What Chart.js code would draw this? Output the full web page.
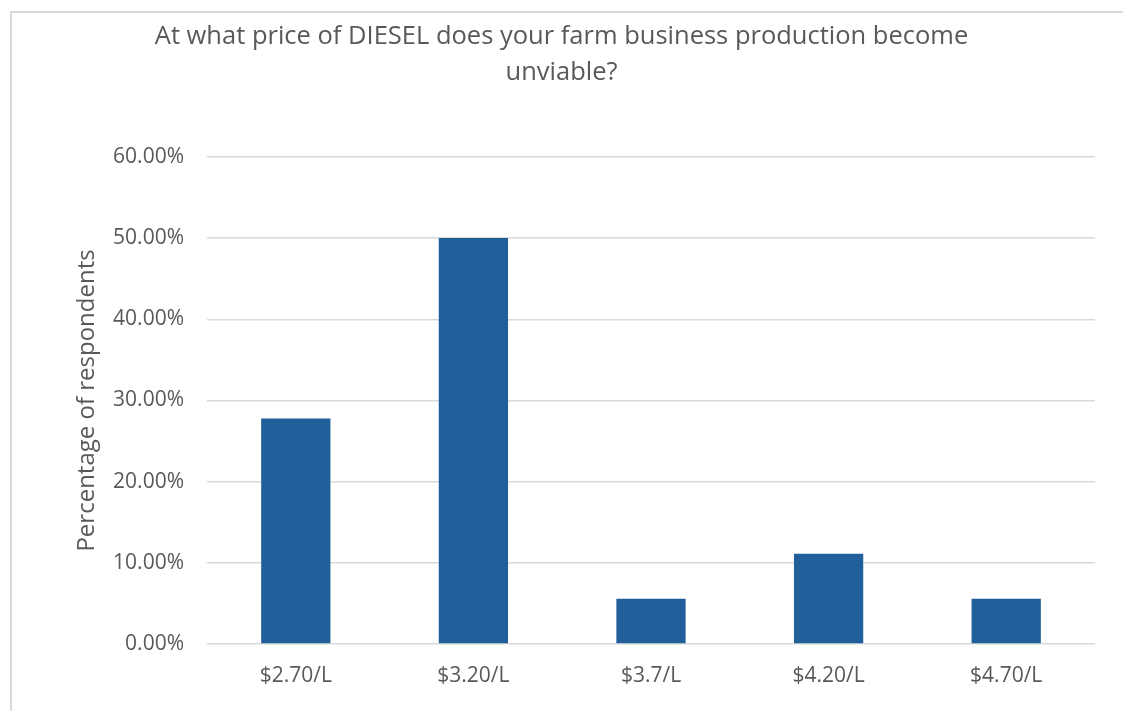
<!DOCTYPE html>
<html>
<head>
<meta charset="utf-8">
<script src="https://cdn.jsdelivr.net/npm/chart.js@4.4.0/dist/chart.umd.min.js"></script>
<style>
  html, body { margin: 0; padding: 0; background: #ffffff; }
  #wrap { position: relative; width: 1123px; height: 711px; overflow: hidden; }
  #frame { position: absolute; left: 10px; top: 11px; width: 1200px; height: 800px;
           border-top: 2px solid #d9d9d9; border-left: 2px solid #d9d9d9; }
  canvas { position: absolute; left: 0; top: 0; }
</style>
</head>
<body>
<div id="wrap">
  <div id="frame"></div>
  <canvas id="chart" width="1123" height="711"></canvas>
</div>
<script>
// data
const categories = ['$2.70/L', '$3.20/L', '$3.7/L', '$4.20/L', '$4.70/L'];
const percentValues = [27.78, 50.00, 5.56, 11.11, 5.56];
const yTicks = [0, 10, 20, 30, 40, 50, 60];

const textColor = '#595959';
const fontFamily = '"Open Sans", "DejaVu Sans", sans-serif';

new Chart(document.getElementById('chart'), {
  type: 'bar',
  data: {
    labels: categories,
    datasets: [{
      data: percentValues,
      backgroundColor: '#215f9a',
      borderWidth: 0,
      barPercentage: 0.39,
      categoryPercentage: 1.0
    }]
  },
  options: {
    responsive: false,
    animation: false,
    layout: {
      padding: { left: 28, right: 28, top: 19, bottom: 24 }
    },
    plugins: {
      legend: { display: false },
      tooltip: { enabled: false },
      title: {
        display: true,
        text: ['At what price of DIESEL does your farm business production become', 'unviable?'],
        color: textColor,
        font: { family: fontFamily, size: 25.5, weight: 'normal', lineHeight: 1.41 },
        padding: { top: 0, bottom: 66 }
      }
    },
    scales: {
      x: {
        grid: { display: false, drawTicks: false },
        border: { display: false },
        ticks: {
          color: textColor,
          font: { family: fontFamily, size: 21 },
          padding: 19
        },
        afterFit: axis => { axis.height = 43; }
      },
      y: {
        min: 0,
        max: 60,
        afterBuildTicks: axis => { axis.ticks = yTicks.map(v => ({ value: v })); },
        grid: { color: '#d9d9d9', lineWidth: 1.5, drawTicks: false },
        border: { display: false },
        ticks: {
          color: textColor,
          font: { family: fontFamily, size: 21 },
          padding: 23,
          callback: v => v.toFixed(2) + '%'
        },
        title: {
          display: true,
          text: 'Percentage of respondents',
          color: textColor,
          font: { family: fontFamily, size: 24 },
          padding: { top: 45, bottom: 0 }
        },
        afterFit: axis => { axis.width = 179; }
      }
    }
  }
});
</script>
</body>
</html>
